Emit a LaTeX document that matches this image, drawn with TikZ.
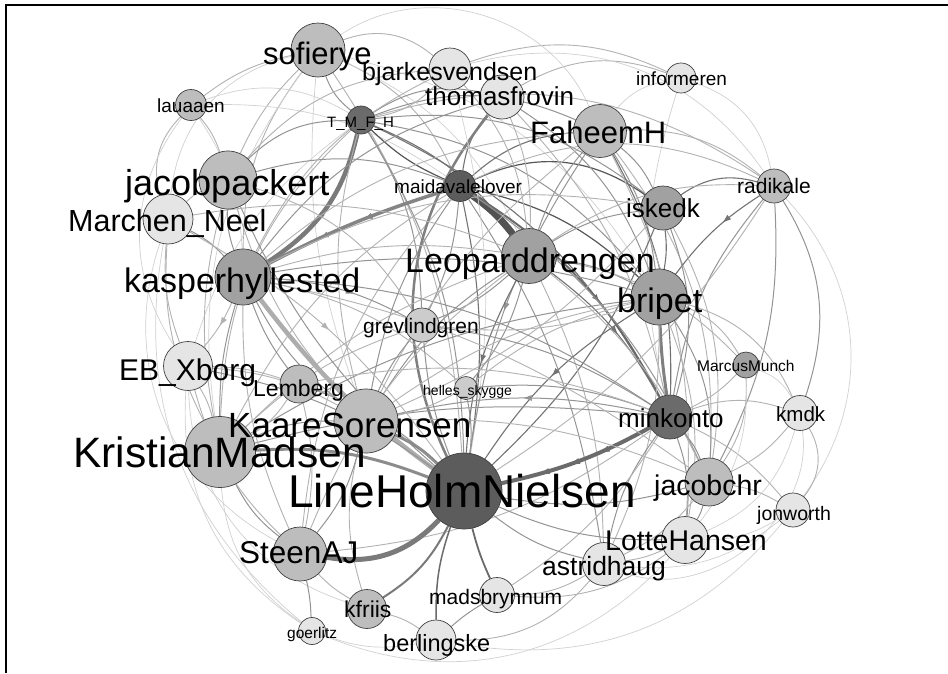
\documentclass[tikz,border=0pt]{standalone}
\usepackage{fontspec}
\setmainfont{Liberation Sans}
\usetikzlibrary{arrows.meta,decorations.markings}
\pgfdeclarelayer{bg}
\pgfsetlayers{bg,main}
\newcommand\fs[1]{\fontsize{#1}{#1}\selectfont}
\definecolor{cLight}{gray}{0.90}
\definecolor{cMidL}{gray}{0.80}
\definecolor{cMid}{gray}{0.74}
\definecolor{cMidD}{gray}{0.63}
\definecolor{cDark}{gray}{0.42}
\definecolor{cDarker}{gray}{0.36}
\tikzset{
  vtx/.style={circle, draw=black!75, line width=0.7pt, inner sep=0pt, minimum size=#1},
  lbl/.style={anchor=base west, inner sep=0pt, text=black},
  ea/.style={draw=black!18, line width=0.7pt},
  eb/.style={draw=black!30, line width=0.9pt},
  ec/.style={draw=black!42, line width=1pt},
  ed/.style={draw=black!55, line width=1.1pt},
  ee/.style={draw=black!66, line width=1.2pt},
  midarrow/.style={postaction={decorate}, decoration={markings,
     mark=at position #1 with {\arrow{Latex[length=9pt,width=6pt]}}}},
}
\begin{document}
\begin{tikzpicture}[x=1pt,y=-1pt]
\useasboundingbox (0,0) rectangle (948,673);

% ---------------- nodes ----------------
\node[vtx=54pt, fill=cMid]   (sofierye) at (318,50) {};
\node[vtx=42pt, fill=cLight] (bjarkesvendsen) at (450,69) {};
\node[vtx=44pt, fill=cLight] (thomasfrovin) at (502,97) {};
\node[vtx=30pt, fill=cLight] (informeren) at (681,78) {};
\node[vtx=31pt, fill=cMid]   (lauaaen) at (191,105) {};
\node[vtx=28pt, fill=cDark]  (TMFH) at (361,120) {};
\node[vtx=53pt, fill=cMid]   (FaheemH) at (600,131) {};
\node[vtx=58pt, fill=cMid]   (jacobpackert) at (228,180) {};
\node[vtx=31pt, fill=cDarker](maidavalelover) at (460,186) {};
\node[vtx=34pt, fill=cMid]   (radikale) at (774,186) {};
\node[vtx=44pt, fill=cMidD]  (iskedk) at (663,208) {};
\node[vtx=50pt, fill=cLight] (MarchenNeel) at (168,219) {};
\node[vtx=55pt, fill=cMidD]  (Leoparddrengen) at (529,256) {};
\node[vtx=56pt, fill=cMidD]  (kasperhyllested) at (243,277) {};
\node[vtx=56pt, fill=cMidD]  (bripet) at (659,297) {};
\node[vtx=34pt, fill=cMidL]  (grevlindgren) at (422,325) {};
\node[vtx=49pt, fill=cLight] (EBXborg) at (188,366) {};
\node[vtx=38pt, fill=cMid]   (Lemberg) at (299,384) {};
\node[vtx=23pt, fill=cMidL]  (hellesskygge) at (466,388) {};
\node[vtx=26pt, fill=cMidD]  (MarcusMunch) at (746,365) {};
\node[vtx=64pt, fill=cMid]   (KaareSorensen) at (366,421) {};
\node[vtx=44pt, fill=cDark]  (minkonto) at (670,417) {};
\node[vtx=35pt, fill=cLight] (kmdk) at (800,413) {};
\node[vtx=71pt, fill=cMid]   (KristianMadsen) at (220,452) {};
\node[vtx=76pt, fill=cDarker](LineHolmNielsen) at (464,491) {};
\node[vtx=48pt, fill=cMid]   (jacobchr) at (709,482) {};
\node[vtx=34pt, fill=cLight] (jonworth) at (793,510) {};
\node[vtx=47pt, fill=cLight] (LotteHansen) at (685,540) {};
\node[vtx=54pt, fill=cMid]   (SteenAJ) at (300,554) {};
\node[vtx=43pt, fill=cLight] (astridhaug) at (604,564) {};
\node[vtx=35pt, fill=cLight] (madsbrynnum) at (497,595) {};
\node[vtx=39pt, fill=cMid]   (kfriis) at (367,609) {};
\node[vtx=27pt, fill=cLight] (goerlitz) at (312,631) {};
\node[vtx=40pt, fill=cLight] (berlingske) at (436,640) {};

% ---------------- labels ----------------
\node[lbl, font=\fs{31}] (t1) at (263,64) {sofierye};
\node[lbl, font=\fs{25}] (t2) at (362,80) {bjarkesvendsen};
\node[lbl, font=\fs{26}] (t3) at (425,105) {thomasfrovin};
\node[lbl, font=\fs{19}] (t4) at (636,85) {informeren};
\node[lbl, font=\fs{19}] (t5) at (157,112) {lauaaen};
\node[lbl, font=\fs{15}] (t6) at (327,127) {T\_M\_F\_H};
\node[lbl, font=\fs{31}] (t7) at (530,143) {FaheemH};
\node[lbl, font=\fs{36}] (t8) at (125,195) {jacobpackert};
\node[lbl, font=\fs{19}] (t9) at (394,193) {maidavalelover};
\node[lbl, font=\fs{21}] (t10) at (737,193) {radikale};
\node[lbl, font=\fs{26}] (t11) at (626,217) {iskedk};
\node[lbl, font=\fs{30.5}] (t12) at (68,231) {Marchen\_Neel};
\node[lbl, font=\fs{34}] (t13) at (405,272) {Leoparddrengen};
\node[lbl, font=\fs{34}] (t14) at (124,292) {kasperhyllested};
\node[lbl, font=\fs{34}] (t15) at (617,312) {bripet};
\node[lbl, font=\fs{21}] (t16) at (363,333) {grevlindgren};
\node[lbl, font=\fs{30}] (t17) at (119,380) {EB\_Xborg};
\node[lbl, font=\fs{23}] (t18) at (253,396) {Lemberg};
\node[lbl, font=\fs{14}] (t19) at (423,395) {helles\_skygge};
\node[lbl, font=\fs{15.5}] (t20) at (697,371) {MarcusMunch};
\node[lbl, font=\fs{35}] (t21) at (228,437) {KaareSorensen};
\node[lbl, font=\fs{26}] (t22) at (618,427) {minkonto};
\node[lbl, font=\fs{20.5}] (t23) at (776,421) {kmdk};
\node[lbl, font=\fs{42.5}] (t24) at (73,467) {KristianMadsen};
\node[lbl, font=\fs{46}] (t25) at (288,507) {LineHolmNielsen};
\node[lbl, font=\fs{28.5}] (t26) at (654,495) {jacobchr};
\node[lbl, font=\fs{19.5}] (t27) at (757,520) {jonworth};
\node[lbl, font=\fs{28.5}] (t28) at (605,550) {LotteHansen};
\node[lbl, font=\fs{31.5}] (t29) at (239,563) {SteenAJ};
\node[lbl, font=\fs{26.5}] (t30) at (542,575) {astridhaug};
\node[lbl, font=\fs{21}] (t31) at (429,604) {madsbrynnum};
\node[lbl, font=\fs{23}] (t32) at (344,617) {kfriis};
\node[lbl, font=\fs{15.5}] (t33) at (287,638) {goerlitz};
\node[lbl, font=\fs{23.5}] (t34) at (383,651) {berlingske};

% ---------------- edges ----------------
\begin{pgfonlayer}{bg}
\fill[white] (0,0) rectangle (948,673);
\draw[line width=1.6pt] (6,673) -- (6,5) -- (948,5);
% light outer arcs
\draw[eb] (sofierye) to[bend left=30] (bjarkesvendsen);
\draw[eb] (bjarkesvendsen) to[bend left=22] (informeren);
\draw[ea] (informeren) to[bend left=30] (radikale);
\draw[ea] (informeren) to[bend right=15] (minkonto);
\draw[ea] (informeren) to[bend right=20] (FaheemH);
\draw[eb] (informeren) to[bend right=25] (thomasfrovin);
\draw[ec] (radikale) to[bend left=25] (kmdk);
\draw[ea] (radikale) to[bend left=40] (jonworth);
\draw[eb] (kmdk) to[bend left=35] (jonworth);
\draw[ea] (jonworth) to[bend left=30] (berlingske);
\draw[ea] (LotteHansen) to[bend left=35] (goerlitz);
\draw[ea] (jonworth) to[bend left=22] (astridhaug);
\draw[ea] (goerlitz) to[bend left=30] (MarchenNeel);
\draw[ea] (kfriis) to[bend left=35] (EBXborg);
\draw[eb] (lauaaen) to[bend right=30] (MarchenNeel);
\draw[ea] (lauaaen) to[bend right=35] (EBXborg);
\draw[eb] (sofierye) to[bend right=12] (lauaaen);
\draw[ea] (sofierye) to[bend right=35] (MarchenNeel);
\draw[ea] (MarchenNeel) to[bend right=40] (SteenAJ);
\draw[ea] (EBXborg) to[bend right=30] (goerlitz);
\draw[ea] (lauaaen) to[bend left=25] (TMFH);
\draw[ea] (sofierye) to[bend left=50] (FaheemH);
\draw[ea] (bjarkesvendsen) to[bend left=35] (radikale);
\draw[ea] (kmdk) to[bend left=25] (LotteHansen);
\draw[ea] (MarcusMunch) to[bend left=20] (kmdk);
\draw[ea] (kmdk) to[bend left=60] (astridhaug);

% sofierye
\draw[eb] (sofierye) to[bend right=10] (jacobpackert);
\draw[eb] (sofierye) to[bend right=18] (kasperhyllested);
\draw[ea] (sofierye) to[bend right=22] (KristianMadsen);
\draw[eb] (sofierye) to[bend left=20] (maidavalelover);
\draw[ec] (sofierye) to[bend right=15] (TMFH);
\draw[ea] (sofierye) to[bend left=20] (Leoparddrengen);
\draw[eb] (sofierye) to[bend left=15] (LineHolmNielsen);
\draw[ea] (sofierye) to[bend right=12] (KaareSorensen);
\draw[ea] (sofierye) to[bend left=22] (bripet);
% lauaaen
\draw[eb] (lauaaen) to[bend left=10] (jacobpackert);
\draw[ea] (lauaaen) to[bend left=15] (kasperhyllested);
\draw[ea] (lauaaen) to[bend left=18] (maidavalelover);
% TMFH
\draw[draw=black!52, line width=4.5pt, midarrow=0.6] (TMFH) to[bend left=22] (kasperhyllested);
\draw[ee] (TMFH) to[bend right=10] (maidavalelover);
\draw[ed] (TMFH) to[bend left=15] (Leoparddrengen);
\draw[ec] (TMFH) to[bend left=20] (bripet);
\draw[ed] (TMFH) to[bend left=18] (minkonto);
\draw[ec] (TMFH) to[bend left=22] (iskedk);
\draw[ec] (TMFH) to[bend left=22] (FaheemH);
\draw[ec] (TMFH) to[bend left=22] (thomasfrovin);
\draw[eb] (TMFH) to[bend right=18] (bjarkesvendsen);
\draw[ec] (TMFH) to[bend right=22] (jacobpackert);
\draw[ec] (TMFH) to[bend left=15] (LineHolmNielsen);
\draw[eb] (TMFH) to[bend right=15] (KaareSorensen);
\draw[ec] (TMFH) to[bend left=15] (grevlindgren);
\draw[eb] (TMFH) to[bend right=22] (KristianMadsen);
\draw[ea] (TMFH) to[bend right=18] (EBXborg);
\draw[eb] (TMFH) to[bend left=25] (radikale);
% maidavalelover
\draw[draw=black!68, line width=7pt] (maidavalelover) to[bend left=8] (Leoparddrengen);
\draw[draw=black!48, line width=3.5pt, midarrow=0.45, midarrow=0.7] (maidavalelover) to[bend right=5] (kasperhyllested);
\draw[draw=black!58, line width=2pt, midarrow=0.6] (maidavalelover) to[bend left=15] (minkonto);
\draw[ee] (maidavalelover) to[bend left=15] (bripet);
\draw[ee] (maidavalelover) to[bend left=30] (iskedk);
\draw[ed] (maidavalelover) to[bend left=18] (FaheemH);
\draw[ed] (maidavalelover) to[bend left=15] (thomasfrovin);
\draw[ed] (maidavalelover) to[bend left=10] (LineHolmNielsen);
\draw[ec] (maidavalelover) to[bend right=12] (KaareSorensen);
\draw[ec] (maidavalelover) to[bend left=10] (grevlindgren);
\draw[ec] (maidavalelover) to[bend right=18] (jacobpackert);
\draw[eb] (maidavalelover) to[bend right=15] (KristianMadsen);
\draw[eb] (maidavalelover) to[bend left=25] (radikale);
\draw[ec] (maidavalelover) to[bend left=15] (jacobchr);
\draw[eb] (maidavalelover) to[bend right=18] (SteenAJ);
\draw[ec] (maidavalelover) to[bend left=12] (astridhaug);
% thomasfrovin / bjarkesvendsen
\draw[draw=black!50, line width=2.5pt] (thomasfrovin) to[bend right=32] (LineHolmNielsen);
\draw[ec] (thomasfrovin) to[bend left=18] (bripet);
\draw[eb] (thomasfrovin) to[bend left=15] (minkonto);
\draw[ec] (thomasfrovin) to[bend right=18] (kasperhyllested);
\draw[eb] (thomasfrovin) to[bend left=12] (Leoparddrengen);
\draw[eb] (bjarkesvendsen) to[bend right=18] (kasperhyllested);
\draw[eb] (bjarkesvendsen) to[bend left=18] (Leoparddrengen);
\draw[ea] (bjarkesvendsen) to[bend left=12] (LineHolmNielsen);
\draw[eb] (bjarkesvendsen) to[bend right=22] (jacobpackert);
% FaheemH
\draw[ec] (FaheemH) to[bend left=12] (iskedk);
\draw[ec] (FaheemH) to[bend left=12] (bripet);
\draw[ed] (FaheemH) to[bend left=15] (minkonto);
\draw[ec] (FaheemH) to[bend right=10] (Leoparddrengen);
\draw[ec, midarrow=0.55] (FaheemH) to[bend right=12] (LineHolmNielsen);
\draw[eb] (FaheemH) to[bend right=18] (kasperhyllested);
\draw[eb] (FaheemH) to[bend left=20] (jacobchr);
\draw[eb] (FaheemH) to[bend left=20] (radikale);
\draw[eb] (FaheemH) to[bend right=12] (KaareSorensen);
\draw[eb] (FaheemH) to[bend left=15] (LotteHansen);
% radikale
\draw[ed] (radikale) to[bend right=25] (iskedk);
\draw[ed, midarrow=0.4] (radikale) to[bend right=10] (bripet);
\draw[ec] (radikale) to[bend right=15] (minkonto);
\draw[ec] (radikale) to[bend left=15] (jacobchr);
\draw[eb] (radikale) to[bend right=18] (Leoparddrengen);
\draw[eb] (radikale) to[bend left=12] (LineHolmNielsen);
% iskedk
\draw[ed] (iskedk) to[bend left=8] (bripet);
\draw[ec] (iskedk) to[bend left=18] (minkonto);
\draw[ec] (iskedk) to[bend right=12] (Leoparddrengen);
\draw[ed] (iskedk) to[bend left=12] (LineHolmNielsen);
\draw[eb] (iskedk) to[bend right=18] (kasperhyllested);
\draw[eb] (iskedk) to[bend left=18] (jacobchr);
\draw[eb] (iskedk) to[bend left=12] (KaareSorensen);
% Leoparddrengen
\draw[ec] (Leoparddrengen) to[bend left=10] (bripet);
\draw[ed, midarrow=0.55] (Leoparddrengen) to[bend left=12] (minkonto);
\draw[ed, midarrow=0.5] (Leoparddrengen) to[bend right=12] (LineHolmNielsen);
\draw[ec] (Leoparddrengen) to[bend right=12] (KaareSorensen);
\draw[ec] (Leoparddrengen) to[bend left=10] (grevlindgren);
\draw[eb] (Leoparddrengen) to[bend right=12] (kasperhyllested);
\draw[eb] (Leoparddrengen) to[bend left=12] (astridhaug);
\draw[eb] (Leoparddrengen) to[bend right=15] (SteenAJ);
\draw[ec] (Leoparddrengen) to[bend left=12] (hellesskygge);
\draw[eb] (Leoparddrengen) to[bend right=12] (KristianMadsen);
\draw[eb] (Leoparddrengen) to[bend left=12] (jacobchr);
% bripet
\draw[draw=black!50, line width=3pt] (bripet) to[bend right=3] (minkonto);
\draw[ed, midarrow=0.5] (bripet) to[bend right=12] (LineHolmNielsen);
\draw[ec] (bripet) to[bend left=18] (jacobchr);
\draw[eb] (bripet) to[bend left=18] (MarcusMunch);
\draw[eb] (bripet) to[bend left=15] (LotteHansen);
\draw[ec] (bripet) to[bend right=12] (kasperhyllested);
\draw[eb] (bripet) to[bend right=12] (KaareSorensen);
\draw[eb] (bripet) to[bend left=12] (astridhaug);
\draw[ec] (bripet) to[bend right=12] (KristianMadsen);
\draw[eb] (bripet) to[bend left=25] (kmdk);
% minkonto
\draw[draw=black!58, line width=4pt, midarrow=0.35, midarrow=0.55, midarrow=0.75] (minkonto) to[bend left=8] (LineHolmNielsen);
\draw[ec] (minkonto) to[bend left=10] (jacobchr);
\draw[ec] (minkonto) to[bend left=12] (LotteHansen);
\draw[ec] (minkonto) to[bend right=12] (astridhaug);
\draw[eb] (minkonto) to[bend right=10] (MarcusMunch);
\draw[eb] (minkonto) to[bend left=18] (kmdk);
\draw[ec, midarrow=0.5] (minkonto) to[bend right=12] (KaareSorensen);
\draw[ec] (minkonto) to[bend right=12] (grevlindgren);
\draw[ec] (minkonto) to[bend right=10] (KristianMadsen);
\draw[eb] (minkonto) to[bend left=15] (SteenAJ);
\draw[ec] (minkonto) to[bend right=12] (hellesskygge);
\draw[ec] (minkonto) to[bend right=15] (kasperhyllested);
\draw[eb] (minkonto) to[bend left=12] (madsbrynnum);
\draw[eb] (minkonto) to[bend left=12] (jonworth);
% MarcusMunch, kmdk, jonworth, jacobchr
\draw[eb] (MarcusMunch) to[bend left=18] (jacobchr);
\draw[ea] (MarcusMunch) to[bend left=20] (LotteHansen);
\draw[eb] (MarcusMunch) to[bend right=18] (Leoparddrengen);
\draw[eb] (kmdk) to[bend left=12] (jacobchr);
\draw[eb] (jonworth) to[bend right=10] (jacobchr);
\draw[ea] (jonworth) to[bend left=15] (LotteHansen);
\draw[ec] (jacobchr) to[bend left=8] (LotteHansen);
\draw[ec] (jacobchr) to[bend left=12] (LineHolmNielsen);
\draw[eb] (jacobchr) to[bend left=12] (astridhaug);
\draw[eb] (jacobchr) to[bend right=12] (KaareSorensen);
% LotteHansen, astridhaug, madsbrynnum, berlingske
\draw[ec] (LotteHansen) to[bend left=12] (LineHolmNielsen);
\draw[eb] (LotteHansen) to[bend left=8] (astridhaug);
\draw[eb] (LotteHansen) to[bend left=20] (madsbrynnum);
\draw[ec] (astridhaug) to[bend left=12] (LineHolmNielsen);
\draw[eb] (astridhaug) to[bend left=15] (madsbrynnum);
\draw[eb] (astridhaug) to[bend left=25] (berlingske);
\draw[draw=black!58, line width=1.8pt] (madsbrynnum) to[bend left=5] (LineHolmNielsen);
\draw[ec] (madsbrynnum) to[bend right=5] (berlingske);
\draw[draw=black!58, line width=1.5pt] (berlingske) to[bend left=10] (LineHolmNielsen);
\draw[eb] (berlingske) to[bend right=10] (kfriis);
\draw[draw=black!52, line width=2pt] (kfriis) to[bend right=15] (LineHolmNielsen);
\draw[eb] (kfriis) to[bend left=8] (SteenAJ);
\draw[eb] (kfriis) to[bend left=15] (KaareSorensen);
\draw[ec] (goerlitz) to[bend right=5] (SteenAJ);
\draw[ea] (goerlitz) to[bend left=25] (KristianMadsen);
\draw[ea] (goerlitz) to[bend right=15] (berlingske);
% SteenAJ
\draw[draw=black!52, line width=5pt] (SteenAJ) to[bend right=28] (LineHolmNielsen);
\draw[ec] (SteenAJ) to[bend left=12] (KristianMadsen);
\draw[ec] (SteenAJ) to[bend right=12] (KaareSorensen);
\draw[eb] (SteenAJ) to[bend left=12] (kasperhyllested);
\draw[eb] (SteenAJ) to[bend left=15] (EBXborg);
\draw[eb] (SteenAJ) to[bend right=12] (Lemberg);
% KristianMadsen
\draw[draw=black!45, line width=3pt] (KristianMadsen) to[bend left=12] (LineHolmNielsen);
\draw[ec] (KristianMadsen) to[bend left=12] (KaareSorensen);
\draw[ec] (KristianMadsen) to[bend left=8] (kasperhyllested);
\draw[eb] (KristianMadsen) to[bend left=15] (MarchenNeel);
\draw[eb] (KristianMadsen) to[bend right=8] (EBXborg);
\draw[eb] (KristianMadsen) to[bend left=12] (jacobpackert);
\draw[eb] (KristianMadsen) to[bend left=12] (grevlindgren);
\draw[eb] (KristianMadsen) to[bend right=12] (Lemberg);
% KaareSorensen
\draw[draw=black!48, line width=3pt] (KaareSorensen) to[bend left=10] (LineHolmNielsen);
\draw[ec] (KaareSorensen) to[bend left=12] (kasperhyllested);
\draw[eb] (KaareSorensen) to[bend right=10] (Lemberg);
\draw[ec] (KaareSorensen) to[bend left=8] (grevlindgren);
\draw[eb] (KaareSorensen) to[bend left=12] (jacobpackert);
\draw[eb] (KaareSorensen) to[bend right=8] (hellesskygge);
% kasperhyllested
\draw[draw=black!32, line width=4.5pt] (kasperhyllested) to[bend right=8] (LineHolmNielsen);
\draw[ec] (kasperhyllested) to[bend left=10] (jacobpackert);
\draw[ec] (kasperhyllested) to[bend right=10] (MarchenNeel);
\draw[eb, midarrow=0.5] (kasperhyllested) to[bend left=8] (EBXborg);
\draw[ec] (kasperhyllested) to[bend right=8] (Lemberg);
\draw[ec, midarrow=0.6] (kasperhyllested) to[bend left=12] (grevlindgren);
\draw[eb] (kasperhyllested) to[bend left=15] (hellesskygge);
\draw[eb] (kasperhyllested) to[bend left=12] (jacobchr);
% jacobpackert, Marchen_Neel, EB_Xborg, Lemberg
\draw[eb] (jacobpackert) to[bend right=10] (MarchenNeel);
\draw[ec] (jacobpackert) to[bend right=12] (LineHolmNielsen);
\draw[eb] (jacobpackert) to[bend left=20] (grevlindgren);
\draw[eb] (MarchenNeel) to[bend right=12] (EBXborg);
\draw[eb, midarrow=0.5] (MarchenNeel) to[bend left=12] (LineHolmNielsen);
\draw[eb] (MarchenNeel) to[bend left=15] (Leoparddrengen);
\draw[ec] (EBXborg) to[bend left=12] (LineHolmNielsen);
\draw[eb] (EBXborg) to[bend left=8] (Lemberg);
\draw[eb] (EBXborg) to[bend left=12] (KaareSorensen);
\draw[ec] (Lemberg) to[bend left=12] (LineHolmNielsen);
\draw[eb] (Lemberg) to[bend left=15] (minkonto);
\draw[ec] (hellesskygge) to[bend left=8] (LineHolmNielsen);
\draw[ec] (grevlindgren) to[bend right=8] (LineHolmNielsen);
\draw[eb] (grevlindgren) to[bend right=12] (bripet);
\draw[eb] (hellesskygge) to[bend left=12] (bripet);
\end{pgfonlayer}
\end{tikzpicture}
\end{document}
